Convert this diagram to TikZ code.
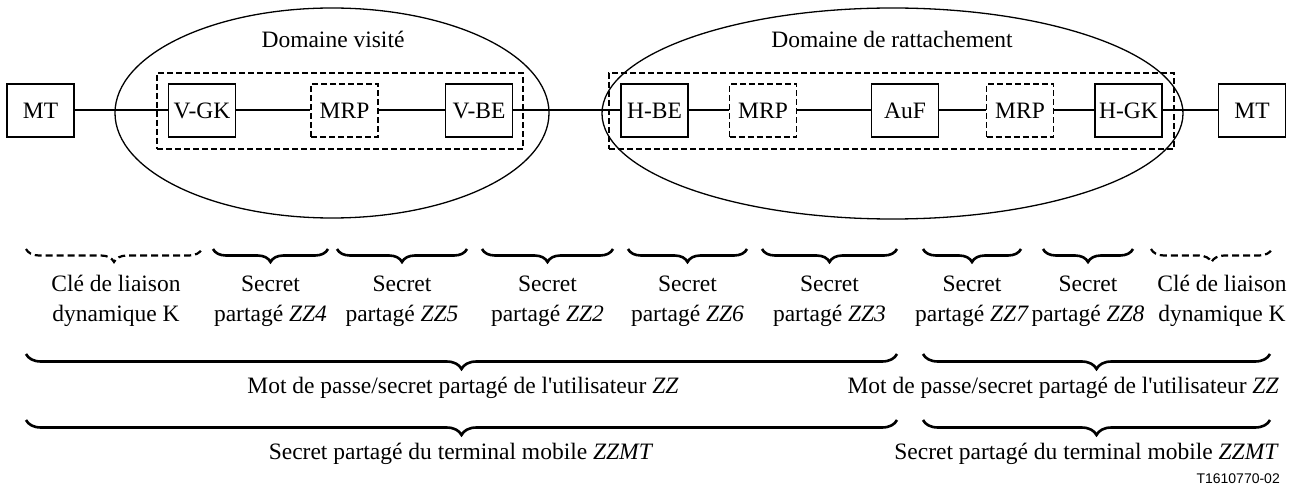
\documentclass[tikz,border=0pt]{standalone}
\usepackage{fontspec}
\setmainfont{Liberation Serif}
\newfontfamily\figsans{Liberation Sans}
\usetikzlibrary{shapes.geometric,decorations.pathreplacing}
\newcommand\figfont{\fontsize{23.5}{30}\selectfont}
\begin{document}
\begin{tikzpicture}[x=1pt,y=1pt,
  box/.style={draw, line width=1.2pt, minimum width=67pt, minimum height=53pt, inner sep=0pt, font=\figfont},
  mrpbox/.style={box, dash pattern=on 6pt off 3pt, line width=1.8pt},
  grp/.style={draw, dash pattern=on 6pt off 3pt, line width=1.8pt, inner sep=0pt},
  conn/.style={line width=2pt},
  dom/.style={draw, ellipse, line width=1.3pt, inner sep=0pt},
  lbl/.style={font=\figfont, inner sep=0pt, align=center},
  brc/.style={decorate, decoration={brace, mirror, amplitude=#1}, line width=2.6pt},
  dbrc/.style={brc=#1, dash pattern=on 7pt off 4pt, line width=2.2pt},
]
\useasboundingbox (0,0) rectangle (1303,-494);

% domains
\node[dom, minimum width=434pt, minimum height=210pt] (dv) at (332,-113) {};
\node[dom, minimum width=581pt, minimum height=211pt] (dr) at (892.5,-113.5) {};
\node[lbl, anchor=base] (tdv) at (333,-48) {Domaine visité};
\node[lbl, anchor=base] (tdr) at (892,-48) {Domaine de rattachement};

% dashed groups
\node[grp, minimum width=366pt, minimum height=76pt] (g1) at (340,-111) {};
\node[grp, minimum width=565pt, minimum height=76pt] (g2) at (891.5,-111) {};

% entities
\node[box] (mt1) at (40.5,-110.5) {MT};
\node[box] (vgk) at (202,-110.5) {V-GK};
\node[mrpbox] (mrp1) at (344.5,-110.5) {MRP};
\node[box] (vbe) at (479,-110.5) {V-BE};
\node[box] (hbe) at (654.5,-110.5) {H-BE};
\node[mrpbox] (mrp2) at (763,-110.5) {MRP};
\node[box] (auf) at (905,-110.5) {AuF};
\node[mrpbox] (mrp3) at (1020,-110.5) {MRP};
\node[box] (hgk) at (1128.5,-110.5) {H-GK};
\node[box] (mt2) at (1252,-110.5) {MT};

\draw[conn] (mt1) -- (vgk);
\draw[conn] (vgk) -- (mrp1);
\draw[conn] (mrp1) -- (vbe);
\draw[conn] (vbe) -- (hbe);
\draw[conn] (hbe) -- (mrp2);
\draw[conn] (mrp2) -- (auf);
\draw[conn] (auf) -- (mrp3);
\draw[conn] (mrp3) -- (hgk);
\draw[conn] (hgk) -- (mt2);

% row 1 braces
\coordinate (a1) at (26,-249);   \coordinate (z1) at (202,-249);
\coordinate (a2) at (213,-249);  \coordinate (z2) at (328,-249);
\coordinate (a3) at (337,-249);  \coordinate (z3) at (467,-249);
\coordinate (a4) at (482,-249);  \coordinate (z4) at (613,-249);
\coordinate (a5) at (628,-249);  \coordinate (z5) at (747,-249);
\coordinate (a6) at (762,-249);  \coordinate (z6) at (897,-249);
\coordinate (a7) at (923,-249);  \coordinate (z7) at (1021,-249);
\coordinate (a8) at (1043,-249); \coordinate (z8) at (1133,-249);
\coordinate (a9) at (1151,-249); \coordinate (z9) at (1272,-249);
\draw[dbrc=13pt] (a1) -- (z1);
\draw[brc=13pt] (a2) -- (z2);
\draw[brc=13pt] (a3) -- (z3);
\draw[brc=13pt] (a4) -- (z4);
\draw[brc=13pt] (a5) -- (z5);
\draw[brc=13pt] (a6) -- (z6);
\draw[brc=13pt] (a7) -- (z7);
\draw[brc=13pt] (a8) -- (z8);
\draw[dbrc=13pt] (a9) -- (z9);

\node[lbl, anchor=base] (l1) at (116,-321) {Clé de liaison\\dynamique K};
\node[lbl, anchor=base] (l2) at (270.5,-321) {Secret\\partagé \textit{ZZ4}};
\node[lbl, anchor=base] (l3) at (402,-321) {Secret\\partagé \textit{ZZ5}};
\node[lbl, anchor=base] (l4) at (547.5,-321) {Secret\\partagé \textit{ZZ2}};
\node[lbl, anchor=base] (l5) at (687.5,-321) {Secret\\partagé \textit{ZZ6}};
\node[lbl, anchor=base] (l6) at (829.5,-321) {Secret\\partagé \textit{ZZ3}};
\node[lbl, anchor=base] (l7) at (972,-321) {Secret\\partagé \textit{ZZ7}};
\node[lbl, anchor=base] (l8) at (1088,-321) {Secret\\partagé \textit{ZZ8}};
\node[lbl, anchor=base] (l9) at (1222,-321) {Clé de liaison\\dynamique K};

% row 2 braces
\coordinate (pa) at (26,-354);  \coordinate (pz) at (897,-354);
\coordinate (qa) at (923,-354); \coordinate (qz) at (1270,-354);
\draw[brc=15pt] (pa) -- (pz);
\draw[brc=15pt] (qa) -- (qz);
\node[lbl, anchor=base] (m1) at (463,-393) {Mot de passe/secret partagé de l\textquotesingle utilisateur \textit{ZZ}};
\node[lbl, anchor=base east] (m2) at (1279,-393) {Mot de passe/secret partagé de l\textquotesingle utilisateur \textit{ZZ}};

% row 3 braces
\coordinate (ra) at (26,-420);  \coordinate (rz) at (897,-420);
\coordinate (sa) at (923,-420); \coordinate (sz) at (1270,-420);
\draw[brc=15pt] (ra) -- (rz);
\draw[brc=15pt] (sa) -- (sz);
\node[lbl, anchor=base] (n1) at (461,-459) {Secret partagé du terminal mobile \textit{ZZMT}};
\node[lbl, anchor=base east] (n2) at (1279,-459) {Secret partagé du terminal mobile \textit{ZZMT}};

\node[font=\figsans\fontsize{14}{16}\selectfont, anchor=base east, inner sep=0pt] (ref) at (1280,-483) {T1610770-02};
\end{tikzpicture}
\end{document}
